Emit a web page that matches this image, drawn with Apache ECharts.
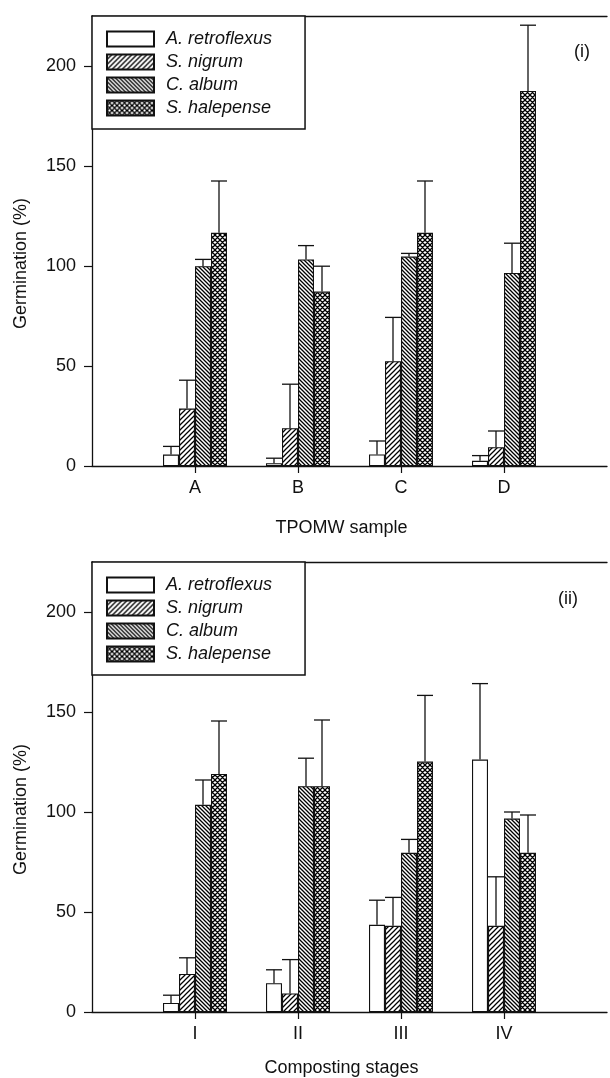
<!DOCTYPE html>
<html>
<head>
<meta charset="utf-8">
<script src="https://cdn.jsdelivr.net/npm/echarts@6/dist/echarts.min.js"></script>
<style>
html,body{margin:0;padding:0;background:#fff;overflow:hidden;}
#chart{width:610px;height:1078px;}
</style>
</head>
<body>
<div id="chart"></div>
<script>
// ---------- data ----------
const species = ['A. retroflexus', 'S. nigrum', 'C. album', 'S. halepense'];
const samples = ['A', 'B', 'C', 'D'];          // panel (i)
const stages = ['I', 'II', 'III', 'IV'];        // panel (ii)
const yTicks = [0, 50, 100, 150, 200];

// Panel (i): TPOMW sample – means and error (SD)
const p1Retroflexus = [5.7, 1.4, 5.8, 2.6];
const p1RetroflexusErr = [4.1, 2.5, 6.7, 2.6];
const p1Nigrum = [28.7, 18.9, 52.4, 9.4];
const p1NigrumErr = [14.2, 22.0, 21.9, 8.1];
const p1Album = [99.9, 103.3, 104.7, 96.5];
const p1AlbumErr = [3.4, 6.9, 1.6, 14.9];
const p1Halepense = [116.6, 87.2, 116.6, 187.5];
const p1HalepenseErr = [25.9, 12.7, 25.9, 32.9];

// Panel (ii): composting stages – means and error (SD)
const p2Retroflexus = [4.5, 14.4, 43.6, 126.2];
const p2RetroflexusErr = [3.9, 6.7, 12.3, 38.0];
const p2Nigrum = [19.0, 9.3, 43.1, 43.1];
const p2NigrumErr = [8.1, 16.9, 14.2, 24.5];
const p2Album = [103.6, 112.9, 79.6, 96.7];
const p2AlbumErr = [12.4, 14.0, 6.7, 3.3];
const p2Halepense = [119.0, 112.9, 125.2, 79.6];
const p2HalepenseErr = [26.5, 33.1, 33.1, 18.9];

// ---------- styling helpers ----------
const INK = '#111';
const FONT = '"Liberation Sans", Arial, Helvetica, sans-serif';
const BAR_W = 16;

function makePattern(kind) {
  const s = kind === 'back' ? 4 : 5;
  const c = document.createElement('canvas');
  c.width = s; c.height = s;
  const g = c.getContext('2d');
  g.fillStyle = '#fff';
  g.fillRect(0, 0, s, s);
  g.strokeStyle = '#000';
  g.lineWidth = kind === 'cross' ? 1.3 : (kind === 'back' ? 1.3 : 1.25);
  g.beginPath();
  if (kind === 'fwd' || kind === 'cross') {
    g.moveTo(-1, s + 1); g.lineTo(s + 1, -1);
    g.moveTo(-1, 1); g.lineTo(1, -1);
    g.moveTo(s - 1, s + 1); g.lineTo(s + 1, s - 1);
  }
  if (kind === 'back' || kind === 'cross') {
    g.moveTo(-1, -1); g.lineTo(s + 1, s + 1);
    g.moveTo(-1, s - 1); g.lineTo(1, s + 1);
    g.moveTo(s - 1, -1); g.lineTo(s + 1, 1);
  }
  g.stroke();
  return { image: c, repeat: 'repeat' };
}
const fills = ['#ffffff', makePattern('fwd'), makePattern('back'), makePattern('cross')];

const padCats = (arr) => [''].concat(arr).concat(['']);

function barSeries(gridIdx, values) {
  return values.map((vals, si) => ({
    type: 'bar',
    name: species[si],
    xAxisIndex: gridIdx, yAxisIndex: gridIdx,
    barWidth: BAR_W,
    barGap: '0%',
    data: vals.map((v, i) => [i + 1, v]),
    itemStyle: { color: fills[si], borderColor: INK, borderWidth: 1.1 },
    z: 2
  }));
}

function errSeries(gridIdx, values, errs) {
  const data = [];
  values.forEach((vals, si) => {
    vals.forEach((v, i) => data.push([i + 1, si, v, errs[si][i]]));
  });
  return {
    type: 'custom',
    xAxisIndex: gridIdx, yAxisIndex: gridIdx,
    encode: { x: 0, y: 2 },
    z: 5,
    silent: true,
    data: data,
    renderItem: function (params, api) {
      const ci = api.value(0), si = api.value(1), m = api.value(2), sd = api.value(3);
      const base = api.coord([ci, m]);
      const top = api.coord([ci, m + sd]);
      const x = base[0] + (si - 1.5) * BAR_W;
      const half = BAR_W / 2;
      const st = { stroke: INK, lineWidth: 1.3 };
      return {
        type: 'group',
        children: [
          { type: 'line', shape: { x1: x, y1: base[1], x2: x, y2: top[1] }, style: st },
          { type: 'line', shape: { x1: x - half, y1: top[1], x2: x + half, y2: top[1] }, style: st }
        ]
      };
    }
  };
}

function xAxisCfg(gridIdx, cats, name, gap) {
  return {
    type: 'category', gridIndex: gridIdx,
    data: padCats(cats),
    boundaryGap: false,
    name: name, nameLocation: 'middle', nameGap: gap,
    nameTextStyle: { fontFamily: FONT, fontSize: 18, color: INK, padding: [0, 16, 0, 0] },
    axisLine: { lineStyle: { color: INK, width: 1.3 } },
    axisTick: { length: 7, lineStyle: { color: INK, width: 1.2 },
      interval: function (idx, val) { return val !== ''; } },
    axisLabel: { fontFamily: FONT, fontSize: 18, color: INK, margin: 13 },
    splitLine: { show: false }
  };
}

// frame line along the top of each panel
function topAxisCfg(gridIdx, cats) {
  return {
    type: 'category', gridIndex: gridIdx, position: 'top',
    data: padCats(cats), boundaryGap: false,
    axisLine: { show: true, onZero: false, lineStyle: { color: INK, width: 1.3 } },
    axisTick: { show: false }, axisLabel: { show: false }, splitLine: { show: false }
  };
}

function yAxisCfg(gridIdx) {
  return {
    type: 'value', gridIndex: gridIdx,
    min: 0, max: 225, interval: 50,
    name: 'Germination (%)', nameLocation: 'middle', nameGap: 62,
    nameTextStyle: { fontFamily: FONT, fontSize: 18, color: INK, padding: [0, 45, 0, 0] },
    axisLine: { show: true, lineStyle: { color: INK, width: 1.3 } },
    axisTick: { show: true, length: 8, customValues: yTicks, lineStyle: { color: INK, width: 1.2 } },
    axisLabel: { fontFamily: FONT, fontSize: 18, color: INK, margin: 16, customValues: yTicks },
    splitLine: { show: false }
  };
}

function legendCfg(top) {
  return {
    data: species,
    orient: 'vertical',
    left: 92, top: top,
    icon: 'rect',
    itemWidth: 47, itemHeight: 15, itemGap: 5,
    padding: [14, 33, 12, 14],
    borderColor: INK, borderWidth: 1.5,
    backgroundColor: '#fff',
    selectedMode: false,
    textStyle: { fontFamily: FONT, fontSize: 18, fontStyle: 'italic', color: INK, padding: [0, 0, 0, 7] }
  };
}

const v1 = [p1Retroflexus, p1Nigrum, p1Album, p1Halepense];
const e1 = [p1RetroflexusErr, p1NigrumErr, p1AlbumErr, p1HalepenseErr];
const v2 = [p2Retroflexus, p2Nigrum, p2Album, p2Halepense];
const e2 = [p2RetroflexusErr, p2NigrumErr, p2AlbumErr, p2HalepenseErr];

const chart = echarts.init(document.getElementById('chart'), null, { renderer: 'canvas' });
chart.setOption({
  animation: false,
  backgroundColor: '#fff',
  grid: [
    { left: 92, top: 16, width: 520, height: 450, containLabel: false },
    { left: 92, top: 562, width: 520, height: 450, containLabel: false }
  ],
  xAxis: [
    xAxisCfg(0, samples, 'TPOMW sample', 53),
    xAxisCfg(1, stages, 'Composting stages', 47),
    topAxisCfg(0, samples),
    topAxisCfg(1, stages)
  ],
  yAxis: [yAxisCfg(0), yAxisCfg(1)],
  legend: [legendCfg(16), legendCfg(562)],
  graphic: [
    { type: 'text', left: 574, top: 43, style: { text: '(i)', fontFamily: FONT, fontSize: 18, fill: INK } },
    { type: 'text', left: 558, top: 590, style: { text: '(ii)', fontFamily: FONT, fontSize: 18, fill: INK } }
  ],
  series: []
    .concat(barSeries(0, v1))
    .concat([errSeries(0, v1, e1)])
    .concat(barSeries(1, v2))
    .concat([errSeries(1, v2, e2)])
});
</script>
</body>
</html>
